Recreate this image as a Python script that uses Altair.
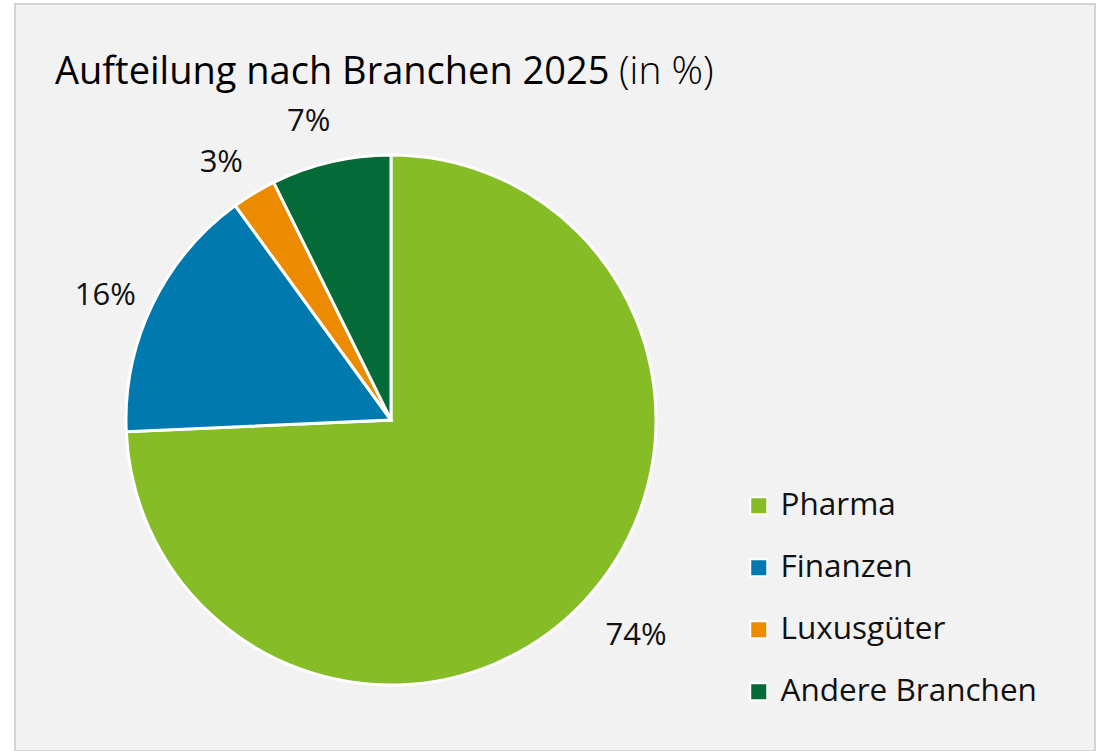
import altair as alt
import pandas as pd

categories = ["Pharma", "Finanzen", "Luxusgüter", "Andere Branchen"]
values = [74.3, 15.7, 2.7, 7.3]
labels = ["74%", "16%", "3%", "7%"]
colors = ["#86bc25", "#0079ae", "#ed8b00", "#046a38"]

title_main = "Aufteilung nach Branchen 2025"
title_unit = "(in %)"

df = pd.DataFrame({"Branche": categories, "Anteil": values, "Label": labels,
                   "Reihenfolge": list(range(len(categories)))})

CX, CY = 376, 416
FONT = "Open Sans"

base = alt.Chart(df).encode(
    theta=alt.Theta("Anteil:Q", stack=True),
    order=alt.Order("Reihenfolge:Q"),
)

pie = base.mark_arc(radius=265, stroke="white", strokeWidth=3).encode(
    color=alt.Color(
        "Branche:N",
        sort=categories,
        scale=alt.Scale(domain=categories, range=colors),
        legend=alt.Legend(
            title=None,
            orient="none",
            legendX=728,
            legendY=486,
            symbolType="square",
            symbolSize=290,
            symbolStrokeColor="white",
            symbolStrokeWidth=2,
            symbolOpacity=1,
            labelFont=FONT,
            labelFontSize=31.5,
            labelColor="#111111",
            labelOffset=6,
            labelLimit=0,
            rowPadding=29,
        ),
    ),
    x=alt.value(CX),
    y=alt.value(CY),
)

text = base.mark_text(thetaOffset=-0.04, font=FONT, fontSize=31,
                      color="#111111").encode(
    text="Label:N",
    radius=alt.Radius("Anteil:Q", scale=alt.Scale(type="linear", domain=[2.7, 74.3],
                                                  range=[308, 327], zero=False)),
    x=alt.value(CX),
    y=alt.value(CY),
)

tdf = pd.DataFrame({"t": [title_main]})
udf = pd.DataFrame({"t": [title_unit]})

title1 = alt.Chart(tdf).mark_text(
    align="left", baseline="alphabetic", font=FONT, fontSize=38, color="#000000"
).encode(text="t:N", x=alt.value(40), y=alt.value(80))

title2 = alt.Chart(udf).mark_text(
    align="left", baseline="alphabetic", font=FONT, fontSize=39, fontWeight=300, color="#000000"
).encode(text="t:N", x=alt.value(604), y=alt.value(80))

chart = alt.layer(pie, text, title1, title2).properties(
    width=1080,
    height=747,
    padding={"left": 15, "top": 4, "right": 11, "bottom": 0},
    autosize=alt.AutoSizeParams(type="none"),
    background="white",
).configure_view(
    fill="#f2f2f2",
    stroke="#d4d4d4",
    strokeWidth=2,
)

chart.save("out.html", embed_options={"renderer": "svg", "actions": False})
